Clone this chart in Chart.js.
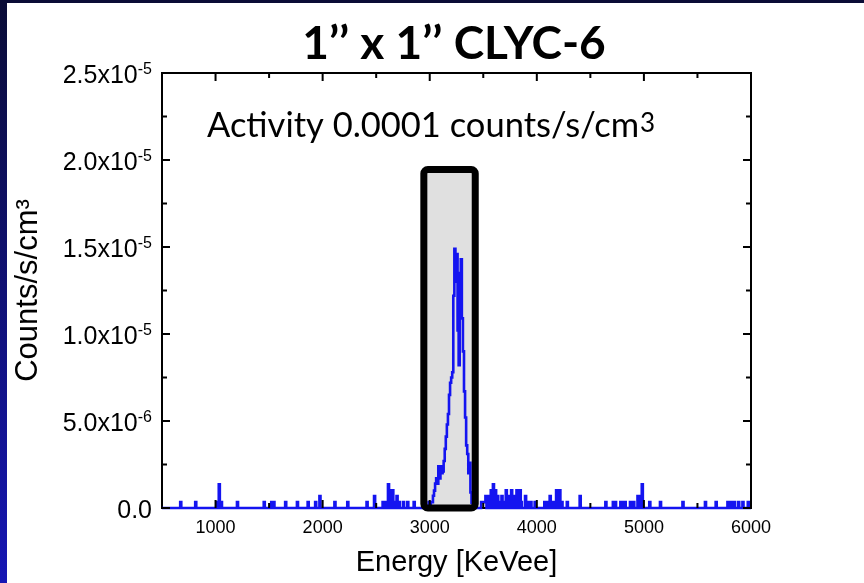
<!DOCTYPE html>
<html lang="en">
<head>
<meta charset="UTF-8">
<title>1'' x 1'' CLYC-6</title>
<script src="https://cdn.jsdelivr.net/npm/chart.js"></script>
<style>
    body {
        margin: 0;
        background: #fff;
        width: 864px;
        height: 583px;
        overflow: hidden;
        position: relative;
    }
    #topBar {
        position: absolute; left: 0; top: 0;
        width: 864px; height: 3px;
        background: #0a0c36;
    }
    #leftBar {
        position: absolute; left: 0; top: 0;
        width: 7px; height: 583px;
        background: linear-gradient(to bottom, #0a0c36, #1616b4);
    }
    #chart { position: absolute; left: 0; top: 0; }
</style>
</head>
<body>
<div id="topBar"></div>
<div id="leftBar"></div>
<canvas id="chart" width="864" height="583"></canvas>

<script>
    // axis ranges
    const energyMin = 500, energyMax = 6000, binWidth = 10;
    const rateMax = 2.5e-5;

    // sparse background counts outside the peak (energy keV, rate in 1e-6 counts/s/cm3)
    const bgEnergy = [670, 810, 1010, 1030, 1050, 1200, 1450, 1520, 1540, 1650,
                      1760, 1860, 1930, 1970, 2110, 2230, 2410, 2480, 2560, 2590,
                      2610, 2630, 2650, 2670, 2690, 2710, 2750, 2790, 2850,
                      3480, 3490, 3500, 3510, 3520, 3540, 3550, 3570, 3590, 3610,
                      3630, 3650, 3670, 3690, 3710, 3720, 3740, 3760, 3770, 3790,
                      3810, 3840, 3850, 3890, 3910, 3940, 3980, 4070, 4090, 4100,
                      4120, 4150, 4180, 4200, 4210, 4230, 4280, 4400, 4640, 4710,
                      4730, 4780, 4800, 4820, 4870, 4900, 4940, 4960, 4980, 5050,
                      5150, 5360, 5570, 5670, 5780, 5810, 5840, 5880, 5920, 5970];
    const bgRate   = [0.34, 0.34, 0.34, 1.36, 0.34, 0.34, 0.34, 0.34, 0.34, 0.34,
                      0.34, 0.34, 0.34, 0.68, 0.34, 0.34, 0.34, 0.68, 0.34, 0.34,
                      1.36, 1.02, 1.02, 0.34, 0.68, 0.34, 0.34, 0.34, 0.34,
                      0.34, 0.34, 0.34, 0.34, 0.68, 0.68, 0.68, 1.02, 1.36, 1.02,
                      0.68, 0.34, 0.68, 0.34, 1.02, 0.34, 0.68, 1.02, 0.34, 0.68,
                      1.02, 1.02, 0.34, 0.68, 0.34, 0.34, 0.34, 0.34, 0.34, 0.34,
                      0.68, 0.34, 1.02, 1.02, 1.02, 0.34, 0.34, 0.68, 0.34, 0.34,
                      0.34, 0.34, 0.34, 0.34, 0.34, 0.34, 0.68, 0.68, 1.36, 0.34,
                      0.34, 0.34, 0.34, 0.34, 0.34, 0.34, 0.34, 0.34, 0.34, 0.34];

    // photopeak (energy keV, rate in 1e-6 counts/s/cm3)
    const peakEnergy = [2980, 2990, 3000, 3010, 3020, 3030, 3040, 3050, 3060, 3070,
                        3080, 3090, 3100, 3110, 3120, 3130, 3140, 3150, 3160, 3170,
                        3180, 3190, 3200, 3210, 3220, 3230, 3240, 3250, 3260, 3270,
                        3280, 3290, 3300, 3310, 3320, 3330, 3340, 3350, 3360, 3370,
                        3380, 3390];
    const peakRate   = [0.0, 0.34, 0.0, 0.34, 0.34, 0.7, 1.0, 1.4, 1.7, 1.4,
                        2.4, 1.7, 2.4, 2.0, 2.1, 2.7, 3.4, 4.1, 4.8, 5.4,
                        6.5, 7.2, 7.5, 7.8, 12.2, 14.9, 13.0, 14.6, 10.2, 8.2,
                        13.5, 14.3, 10.9, 9.0, 6.7, 5.2, 3.6, 3.1, 2.0, 2.6,
                        0.9, 0.3];

    const xMajor = [1000, 2000, 3000, 4000, 5000, 6000];
    const xMinor = [1500, 2500, 3500, 4500, 5500];
    const yMajor = [0, 5e-6, 1e-5, 1.5e-5, 2e-5, 2.5e-5];
    const yMinor = [2.5e-6, 7.5e-6, 1.25e-5, 1.75e-5, 2.25e-5];
    const yMantissa = ['0.0', '5.0x10', '1.0x10', '1.5x10', '2.0x10', '2.5x10'];
    const yExponent = ['', '-6', '-5', '-5', '-5', '-5'];

    // highlighted window around the peak
    const windowLo = 2945, windowHi = 3425, windowTop = 1.945e-5;

    // build the binned spectrum
    const rateByBin = new Map();
    bgEnergy.forEach((e, i) => rateByBin.set(e, bgRate[i]));
    peakEnergy.forEach((e, i) => rateByBin.set(e, peakRate[i]));
    const spectrum = [];
    for (let e = energyMin; e <= energyMax; e += binWidth) {
        spectrum.push({ x: e, y: (rateByBin.get(e) || 0) * 1e-6 });
    }

    const decor = {
        id: 'decor',
        beforeDatasetsDraw(chart) {
            const { ctx, scales: { x, y } } = chart;
            const l = x.getPixelForValue(windowLo), r = x.getPixelForValue(windowHi);
            const t = y.getPixelForValue(windowTop), b = y.getPixelForValue(0);
            ctx.save();
            ctx.fillStyle = '#e0e0e0';
            ctx.beginPath();
            ctx.roundRect(l, t, r - l, b - t, 4);
            ctx.fill();
            ctx.restore();
        },
        afterDatasetsDraw(chart) {
            const { ctx, chartArea: a, scales: { x, y } } = chart;
            ctx.save();

            // window outline
            const l = x.getPixelForValue(windowLo), r = x.getPixelForValue(windowHi);
            const t = y.getPixelForValue(windowTop), b = y.getPixelForValue(0);
            ctx.strokeStyle = '#000';
            ctx.lineWidth = 7;
            ctx.beginPath();
            ctx.roundRect(l, t, r - l, b - t, 4);
            ctx.stroke();

            // top and right frame
            ctx.lineWidth = 2;
            ctx.beginPath();
            ctx.moveTo(a.left, a.top);
            ctx.lineTo(a.right, a.top);
            ctx.lineTo(a.right, a.bottom);
            ctx.stroke();

            // inward ticks on all four sides
            const tick = (v, len) => {
                const px = x.getPixelForValue(v);
                ctx.moveTo(px, a.bottom); ctx.lineTo(px, a.bottom - len);
                ctx.moveTo(px, a.top); ctx.lineTo(px, a.top + len);
            };
            const ytick = (v, len) => {
                const py = y.getPixelForValue(v);
                ctx.moveTo(a.left, py); ctx.lineTo(a.left + len, py);
                ctx.moveTo(a.right, py); ctx.lineTo(a.right - len, py);
            };
            ctx.beginPath();
            xMajor.forEach(v => tick(v, 8));
            xMinor.forEach(v => tick(v, 5));
            yMajor.forEach(v => ytick(v, 8));
            yMinor.forEach(v => ytick(v, 5));
            ctx.stroke();

            // y tick labels with superscript exponents
            ctx.fillStyle = '#000';
            ctx.textAlign = 'right';
            ctx.textBaseline = 'alphabetic';
            const labelRight = 152;
            yMajor.forEach((v, i) => {
                const py = y.getPixelForValue(v);
                ctx.font = '16px "Liberation Sans", Arial, sans-serif';
                const ew = yExponent[i] ? ctx.measureText(yExponent[i]).width : 0;
                if (yExponent[i]) ctx.fillText(yExponent[i], labelRight, py + 1);
                ctx.font = '25px "Liberation Sans", Arial, sans-serif';
                ctx.fillText(yMantissa[i], labelRight - ew, py + 10);
            });

            // title
            ctx.textAlign = 'center';
            ctx.font = 'bold 46px Lato, "Open Sans", sans-serif';
            ctx.fillText('1\u2019\u2019 x 1\u2019\u2019 CLYC-6', 454, 59);

            // activity note
            ctx.textAlign = 'left';
            ctx.font = '34.5px Lato, "Open Sans", sans-serif';
            const note = 'Activity 0.0001 counts/s/cm';
            ctx.fillText(note, 207, 137);
            const nw = ctx.measureText(note).width;
            ctx.font = '26px Lato, "Open Sans", sans-serif';
            ctx.fillText('3', 207 + nw + 1, 132);

            ctx.restore();
        }
    };

    new Chart(document.getElementById('chart'), {
        type: 'line',
        data: {
            datasets: [{
                data: spectrum,
                borderColor: '#1414f0',
                borderWidth: 2.6,
                pointRadius: 0,
                stepped: true,
                fill: false,
                clip: false
            }]
        },
        options: {
            responsive: false,
            animation: false,
            layout: { padding: { left: 0, top: 73, right: 113, bottom: 0 } },
            plugins: {
                legend: { display: false },
                tooltip: { enabled: false }
            },
            scales: {
                x: {
                    type: 'linear',
                    min: energyMin,
                    max: energyMax,
                    afterBuildTicks: s => { s.ticks = xMajor.map(v => ({ value: v })); },
                    afterFit: s => { s.height = 75; },
                    grid: { display: false, drawTicks: false },
                    border: { display: true, color: '#000', width: 2 },
                    ticks: {
                        color: '#000',
                        padding: 9,
                        maxRotation: 0,
                        font: { family: '"Liberation Sans", Arial, sans-serif', size: 18 },
                        callback: v => String(v)
                    },
                    title: {
                        display: true,
                        text: 'Energy [KeVee]',
                        color: '#000',
                        padding: { top: 0, bottom: 3 },
                        font: { family: '"Liberation Sans", Arial, sans-serif', size: 29 }
                    }
                },
                y: {
                    min: 0,
                    max: rateMax,
                    afterFit: s => { s.width = 162; },
                    grid: { display: false, drawTicks: false },
                    border: { display: true, color: '#000', width: 2 },
                    ticks: { display: false },
                    title: {
                        display: true,
                        text: 'Counts/s/cm\u00b3',
                        color: '#000',
                        padding: { top: 10, bottom: 0 },
                        font: { family: '"Liberation Sans", Arial, sans-serif', size: 31 }
                    }
                }
            }
        },
        plugins: [decor]
    });
</script>
</body>
</html>
